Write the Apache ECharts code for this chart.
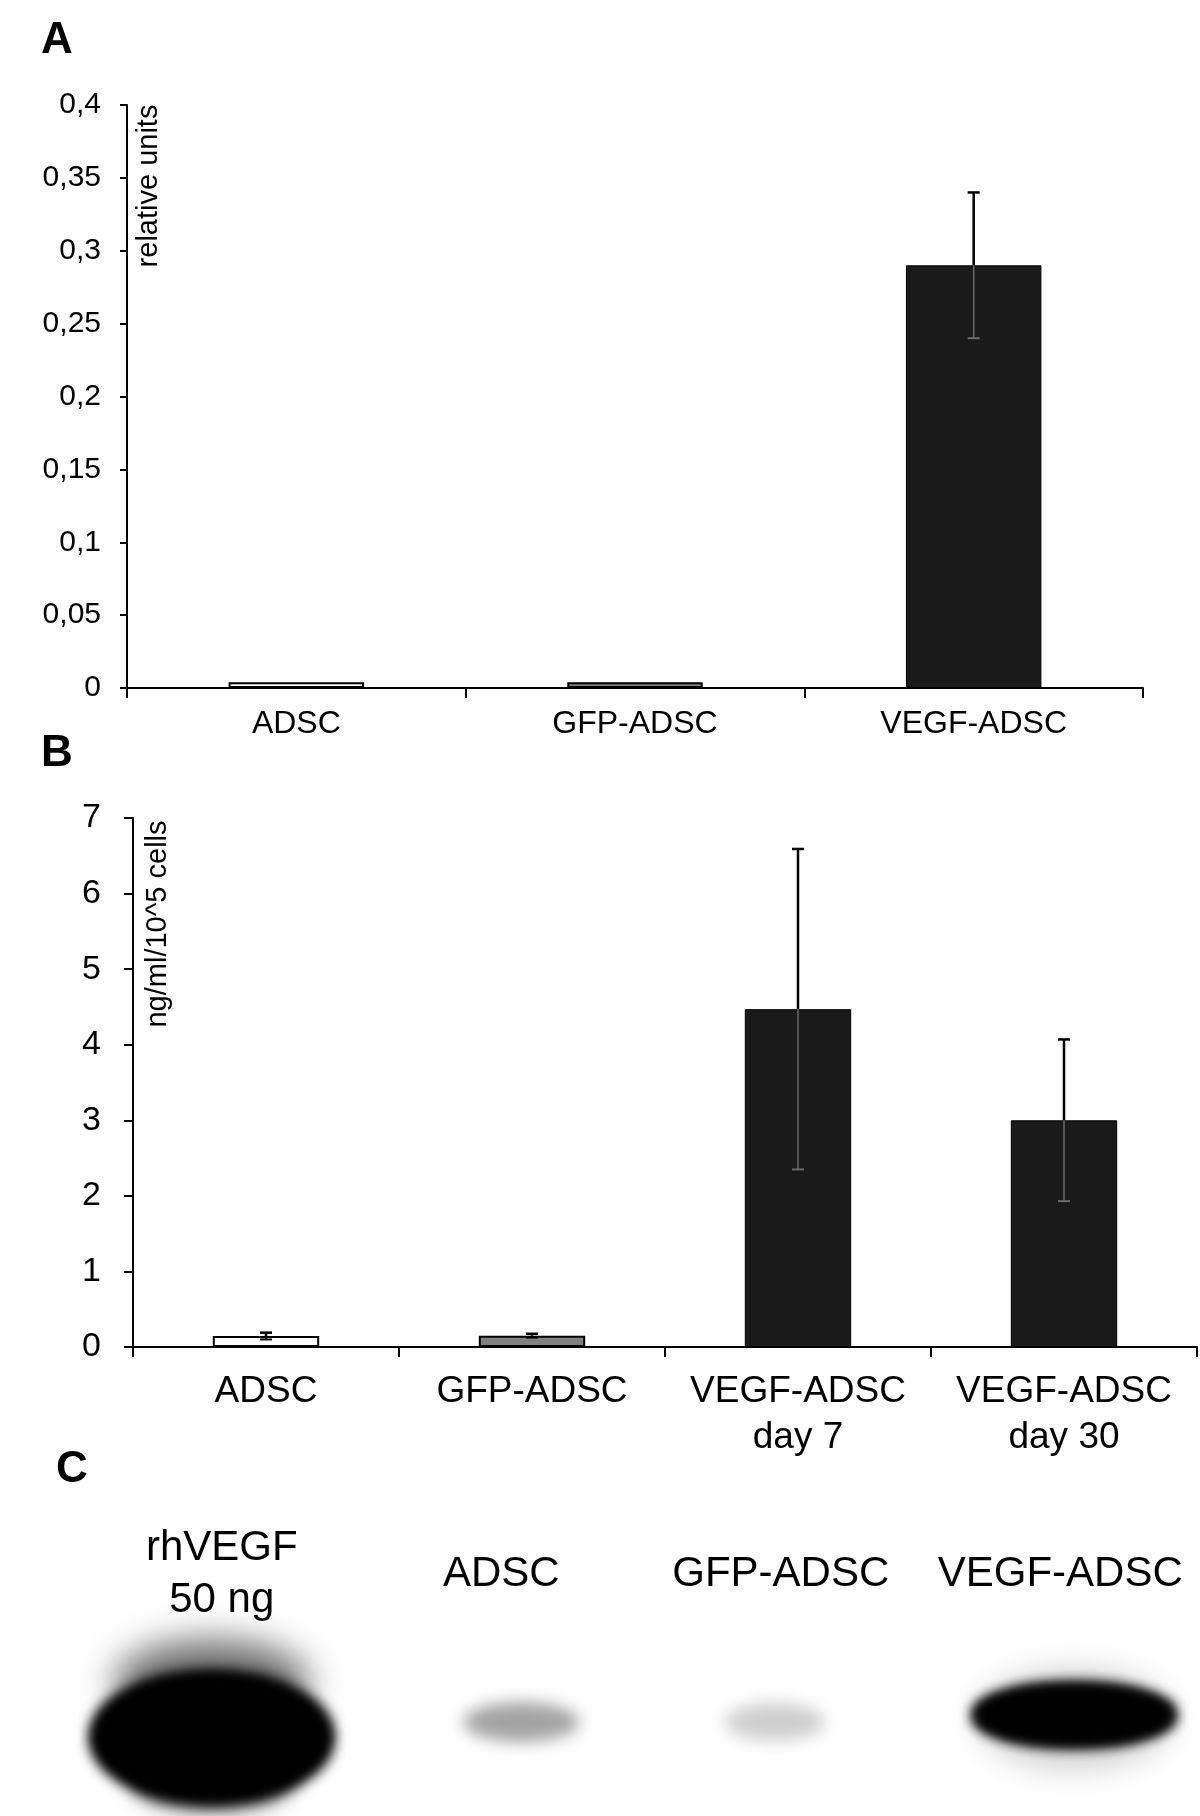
<!DOCTYPE html>
<html>
<head>
<meta charset="utf-8">
<script src="https://cdn.jsdelivr.net/npm/echarts@6/dist/echarts.min.js"></script>
<style>
  html, body { margin: 0; padding: 0; background: #ffffff; }
  #chart { width: 1200px; height: 1816px; }
</style>
</head>
<body>
<div id="chart"></div>
<script>
// ---------- data ----------
const catsA = ['ADSC', 'GFP-ADSC', 'VEGF-ADSC'];
const valA = [0.004, 0.004, 0.29];
const errA = [0, 0, 0.05];
const yTicksA = ['0', '0,05', '0,1', '0,15', '0,2', '0,25', '0,3', '0,35', '0,4'];
const nameA = 'relative units';

const catsB = ['ADSC', 'GFP-ADSC', 'VEGF-ADSC\nday 7', 'VEGF-ADSC\nday 30'];
const valB = [0.145, 0.15, 4.47, 3.0];
const errB = [0.045, 0.025, 2.12, 1.07];
const yTicksB = ['0', '1', '2', '3', '4', '5', '6', '7'];
const nameB = 'ng/ml/10^5 cells';

const lanesC = ['rhVEGF\n50 ng', 'ADSC', 'GFP-ADSC', 'VEGF-ADSC'];
const bandC = [1.0, 0.3, 0.22, 0.95];

// ---------- styles ----------
const FONT = "'Liberation Sans', Arial, Helvetica, sans-serif";
const colorsA = ['#ffffff', '#808080', '#1a1a1a'];
const colorsB = ['#ffffff', '#808080', '#1a1a1a', '#1a1a1a'];
// soft blob pieces per lane: offsets / radii relative to lane centre, alpha factor, blur, repeats
const bandShapes = [
  [
    { dx: -10, dy: -42, rx: 98, ry: 44, a: 0.75, blur: 34, n: 1 },
    { dx: -10, dy: 12, rx: 118, ry: 62, a: 1, blur: 16, n: 3 },
    { dx: -10, dy: 56, rx: 80, ry: 30, a: 0.8, blur: 20, n: 1 }
  ],
  [
    { dx: 20, dy: -3, rx: 58, ry: 20, a: 2, blur: 16, n: 1 }
  ],
  [
    { dx: -6, dy: -3, rx: 50, ry: 19, a: 2, blur: 16, n: 1 }
  ],
  [
    { dx: 14, dy: -6, rx: 96, ry: 50, a: 0.45, blur: 30, n: 1 },
    { dx: 14, dy: -10, rx: 100, ry: 30, a: 1, blur: 14, n: 3 }
  ]
];

function barData(vals, cols) {
  return vals.map((v, i) => ({
    value: v,
    itemStyle: {
      color: cols[i],
      borderColor: '#000',
      borderWidth: cols[i] === '#1a1a1a' ? 1 : 2
    }
  }));
}

function errRender(cols) {
  return function (params, api) {
    const x = api.value(0), v = api.value(1), e = api.value(2);
    if (!(e > 0)) return null;
    const t = api.coord([x, v + e]);
    const m = api.coord([x, v]);
    const b = api.coord([x, v - e]);
    const inner = cols[params.dataIndex] === '#1a1a1a' ? '#6a6a6a' : '#000';
    const hw = 6;
    return {
      type: 'group',
      children: [
        { type: 'line', shape: { x1: t[0], y1: t[1], x2: m[0], y2: m[1] }, style: { stroke: '#000', lineWidth: 2.5 } },
        { type: 'line', shape: { x1: m[0], y1: m[1], x2: b[0], y2: b[1] }, style: { stroke: inner, lineWidth: 1.5 } },
        { type: 'line', shape: { x1: t[0] - hw, y1: t[1], x2: t[0] + hw, y2: t[1] }, style: { stroke: '#000', lineWidth: 2.5 } },
        { type: 'line', shape: { x1: b[0] - hw, y1: b[1], x2: b[0] + hw, y2: b[1] }, style: { stroke: inner, lineWidth: 2 } }
      ]
    };
  };
}

// draws only the blurred shadow of each ellipse (shape itself is shifted off-canvas)
const OFF = 3000;
function blobRender(params, api) {
  const i = api.value(0), I = api.value(1);
  const c = api.coord([i, 0]);
  const pieces = bandShapes[params.dataIndex];
  const children = [];
  pieces.forEach(p => {
    const alpha = Math.min(1, I * p.a);
    const col = 'rgba(0,0,0,' + alpha.toFixed(3) + ')';
    for (let k = 0; k < p.n; k++) {
      children.push({
        type: 'ellipse',
        shape: { cx: c[0] + p.dx + OFF, cy: c[1] + p.dy, rx: p.rx, ry: p.ry },
        style: { fill: col, shadowBlur: p.blur, shadowColor: col, shadowOffsetX: -OFF, shadowOffsetY: 0 }
      });
    }
  });
  return { type: 'group', children: children };
}

const axisLineStyle = { color: '#000', width: 2 };

const chart = echarts.init(document.getElementById('chart'), null, { renderer: 'canvas' });

const option = {
  backgroundColor: '#ffffff',
  animation: false,
  textStyle: { fontFamily: FONT, color: '#000' },
  grid: [
    { left: 127, top: 105, width: 1016, height: 583 },
    { left: 133, top: 818, width: 1064, height: 529 },
    { left: 82, top: 1640, width: 1124, height: 170 }
  ],
  xAxis: [
    {
      gridIndex: 0, type: 'category', data: catsA,
      axisLine: { lineStyle: axisLineStyle },
      axisTick: { show: true, length: 10, lineStyle: { color: '#000', width: 2 } },
      axisLabel: { color: '#000', fontSize: 32, fontFamily: FONT, margin: 20 }
    },
    {
      gridIndex: 1, type: 'category', data: catsB,
      axisLine: { lineStyle: axisLineStyle },
      axisTick: { show: true, length: 10, lineStyle: { color: '#000', width: 2 } },
      axisLabel: { color: '#000', fontSize: 37, fontFamily: FONT, margin: 22, lineHeight: 46, interval: 0 }
    },
    {
      gridIndex: 2, type: 'category', data: lanesC, position: 'top',
      axisLine: { show: false }, axisTick: { show: false },
      axisLabel: { color: '#000', fontSize: 42, fontFamily: FONT, margin: 66, lineHeight: 52, verticalAlign: 'middle', interval: 0 }
    }
  ],
  yAxis: [
    {
      gridIndex: 0, type: 'value', min: 0, max: 0.4, interval: 0.05,
      splitLine: { show: false },
      axisLine: { show: true, lineStyle: axisLineStyle },
      axisTick: { show: true, length: 7, lineStyle: { color: '#000', width: 2 } },
      axisLabel: {
        color: '#000', fontSize: 30, fontFamily: FONT, margin: 26,
        formatter: v => yTicksA[Math.round(v / 0.05)]
      }
    },
    {
      gridIndex: 1, type: 'value', min: 0, max: 7, interval: 1,
      splitLine: { show: false },
      axisLine: { show: true, lineStyle: axisLineStyle },
      axisTick: { show: true, length: 9, lineStyle: { color: '#000', width: 2 } },
      axisLabel: {
        color: '#000', fontSize: 34, fontFamily: FONT, margin: 32,
        formatter: v => yTicksB[Math.round(v)]
      }
    },
    { gridIndex: 2, type: 'value', min: -1, max: 1, show: false }
  ],
  series: [
    { type: 'bar', xAxisIndex: 0, yAxisIndex: 0, barWidth: '40%', data: barData(valA, colorsA), z: 2, silent: true },
    { type: 'custom', xAxisIndex: 0, yAxisIndex: 0, z: 5, silent: true, renderItem: errRender(colorsA),
      data: valA.map((v, i) => [i, v, errA[i]]) },
    { type: 'bar', xAxisIndex: 1, yAxisIndex: 1, barWidth: '40%', data: barData(valB, colorsB), z: 2, silent: true },
    { type: 'custom', xAxisIndex: 1, yAxisIndex: 1, z: 5, silent: true, renderItem: errRender(colorsB),
      data: valB.map((v, i) => [i, v, errB[i]]) },
    { type: 'custom', xAxisIndex: 2, yAxisIndex: 2, z: 2, silent: true, clip: false, renderItem: blobRender,
      data: bandC.map((v, i) => [i, v]) }
  ],
  graphic: [
    { type: 'text', x: 57, y: 41, style: { text: 'A', font: 'bold 44px ' + FONT, fill: '#000', align: 'center', verticalAlign: 'middle' } },
    { type: 'text', x: 57, y: 754, style: { text: 'B', font: 'bold 44px ' + FONT, fill: '#000', align: 'center', verticalAlign: 'middle' } },
    { type: 'text', x: 72, y: 1470, style: { text: 'C', font: 'bold 44px ' + FONT, fill: '#000', align: 'center', verticalAlign: 'middle' } },
    { type: 'text', x: 149, y: 186, rotation: Math.PI / 2, style: { text: nameA, font: '29px ' + FONT, fill: '#000', align: 'center', verticalAlign: 'middle' } },
    { type: 'text', x: 158, y: 924, rotation: Math.PI / 2, style: { text: nameB, font: '29px ' + FONT, fill: '#000', align: 'center', verticalAlign: 'middle' } }
  ]
};

chart.setOption(option);
</script>
</body>
</html>
